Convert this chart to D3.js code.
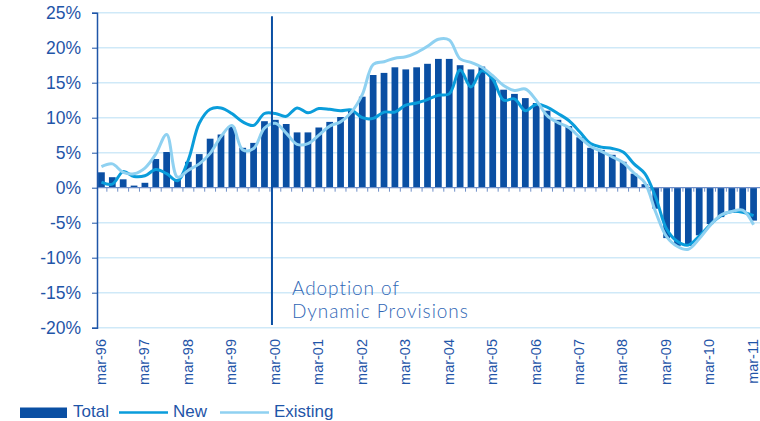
<!DOCTYPE html>
<html>
<head>
<meta charset="utf-8">
<script src="https://cdn.jsdelivr.net/npm/d3@7/dist/d3.min.js"></script>
<style>
  html, body { margin: 0; padding: 0; background: #fff; }
  svg { display: block; }
</style>
</head>
<body>
<svg id="chart" width="760" height="421"></svg>
<script>
// ---------- DATA ----------
const years = ["96","97","98","99","00","01","02","03","04","05","06","07","08","09","10","11"];
const months = ["mar","jun","sep","dec"];
const categories = years.flatMap(yy => months.map(m => m + "-" + yy)).slice(0, 61);

const tickLabels = ["mar-96","mar-97","mar-98","mar-99","mar-00","mar-01","mar-02","mar-03",
                    "mar-04","mar-05","mar-06","mar-07","mar-08","mar-09","mar-10","mar-11"];

const yTicks = [25, 20, 15, 10, 5, 0, -5, -10, -15, -20];

const totalValues = [
  2.2, 1.5, 1.2, 0.3, 0.7, 4.1, 5.1, 1.2, 3.7, 4.8,
  7.0, 7.6, 8.7, 5.7, 6.4, 9.5, 9.7, 9.1, 7.9, 7.9,
  8.6, 9.4, 10.1, 11.0, 13.0, 16.1, 16.4, 17.2, 16.9, 17.2,
  17.7, 18.4, 18.4, 17.5, 16.9, 17.3, 15.8, 14.0, 13.4, 12.8,
  12.1, 11.0, 9.7, 8.8, 7.2, 5.7, 5.4, 4.7, 3.7, 2.0,
  0.5, -3.0, -7.2, -8.3, -8.3, -6.8, -5.2, -4.2, -3.6, -3.5,
  -4.7
];

const newValues = [
  0.8, 0.5, 2.3, 1.6, 1.7, 2.6, 2.0, 1.0, 4.0, 9.2,
  11.2, 11.4, 10.6, 9.4, 8.9, 10.6, 10.6, 10.2, 11.4, 10.7,
  11.3, 11.2, 11.0, 11.1, 10.0, 9.9, 10.8, 10.8, 11.8, 12.1,
  12.6, 13.2, 13.4, 16.8, 14.4, 16.7, 15.5, 12.5, 12.7, 11.0,
  11.9, 11.5, 10.6, 9.6, 8.0, 6.3, 5.8, 5.6, 5.1, 3.4,
  2.0, -1.4, -5.9, -7.7, -8.2, -6.9, -5.3, -4.0, -3.4, -3.5,
  -4.0
];

const existingValues = [
  3.0, 3.4, 2.2, 2.0, 2.8, 4.8, 7.6, 1.5, 2.5, 3.4,
  4.9, 7.3, 8.9, 5.4, 5.6, 8.5, 9.2, 7.8, 6.2, 6.3,
  7.5, 8.8, 9.4, 10.8, 13.3, 17.6, 18.0, 18.5, 18.7, 19.3,
  20.2, 21.2, 21.1, 18.4, 17.9, 17.2, 16.0, 14.6, 13.9, 14.1,
  12.5, 10.3, 9.3, 8.6, 7.2, 5.9, 5.2, 4.4, 3.6, 2.1,
  0.7, -3.5, -7.0, -8.4, -8.8, -7.3, -5.4, -3.9, -3.4, -3.2,
  -5.3
];

const seriesNames = ["Total", "New", "Existing"];
const annotationCategory = "mar-00";
const annotationLines = ["Adoption of", "Dynamic Provisions"];

// ---------- STYLE ----------
const C = {
  bar: "#0a4fa3",
  newLine: "#0a9ddb",
  existing: "#8fd1f1",
  grid: "#cfe9f8",
  text: "#1f55a8",
  axis: "#1f56a8",
  zero: "#6f8fc8",
  note: "#2f66b5"
};
const FONT = "'Liberation Sans', Arial, Helvetica, sans-serif";

// ---------- SCALES ----------
const svg = d3.select("#chart");
const left = 97, right = 760;
const x = d3.scaleBand().domain(categories).range([96, 759])
  .paddingInner(0.38).paddingOuter(0.19);
const y = d3.scaleLinear().domain([-20, 25]).range([327.7, 12.7]);
const cx = c => x(c) + x.bandwidth() / 2;

// gridlines
svg.append("g").selectAll("line").data(yTicks.filter(d => d !== 0)).join("line")
  .attr("x1", left).attr("x2", right)
  .attr("y1", d => y(d)).attr("y2", d => y(d))
  .attr("stroke", C.grid).attr("stroke-width", 1.5);

// bars
svg.append("g").selectAll("rect").data(categories).join("rect")
  .attr("x", d => x(d))
  .attr("width", x.bandwidth())
  .attr("y", (d, i) => y(Math.max(0, totalValues[i])))
  .attr("height", (d, i) => Math.abs(y(totalValues[i]) - y(0)))
  .attr("fill", C.bar);

// zero axis line with small ticks between bars
const y0 = y(0);
svg.append("line").attr("x1", left).attr("x2", right).attr("y1", y0).attr("y2", y0)
  .attr("stroke", C.zero).attr("stroke-width", 1.2);
svg.append("g").selectAll("line").data(categories.slice(1)).join("line")
  .attr("x1", d => x(d) - x.step() * x.paddingInner() / 2)
  .attr("x2", d => x(d) - x.step() * x.paddingInner() / 2)
  .attr("y1", y0).attr("y2", y0 + 4)
  .attr("stroke", C.zero).attr("stroke-width", 1);

// lines
const lineGen = vals => d3.line()
  .x((d, i) => cx(categories[i]))
  .y(d => y(d))
  .curve(d3.curveCatmullRom.alpha(0.5))(vals);

svg.append("path").attr("d", lineGen(newValues))
  .attr("fill", "none").attr("stroke", C.newLine).attr("stroke-width", 3)
  .attr("stroke-linejoin", "round");
svg.append("path").attr("d", lineGen(existingValues))
  .attr("fill", "none").attr("stroke", C.existing).attr("stroke-width", 3)
  .attr("stroke-linejoin", "round");

// y axis
const yAxis = svg.append("g").attr("transform", `translate(${left},0)`)
  .call(d3.axisLeft(y).tickValues(yTicks).tickSize(5).tickPadding(11)
    .tickFormat(d => d + "%"));
yAxis.select(".domain").attr("stroke", C.axis).attr("stroke-width", 1.5);
yAxis.selectAll(".tick line").attr("stroke", C.axis).attr("stroke-width", 1);
yAxis.selectAll("text").attr("fill", C.text).style("font-family", FONT)
  .style("font-size", "17.5px");

// x labels (rotated)
svg.append("g").selectAll("text").data(tickLabels).join("text")
  .attr("transform", d => `translate(${cx(d)},339) rotate(-90)`)
  .attr("text-anchor", "end").attr("dy", "0.3em")
  .attr("fill", C.text).style("font-family", FONT).style("font-size", "14.5px")
  .text(d => d);

// annotation vertical line
const ax = x(annotationCategory);
svg.append("line").attr("x1", ax).attr("x2", ax)
  .attr("y1", y(24.5)).attr("y2", y(-19.6))
  .attr("stroke", C.bar).attr("stroke-width", 2);
const note = svg.append("g")
  .attr("fill", C.note)
  .style("font-family", "Lato, 'Open Sans', sans-serif").style("font-weight", 300)
  .style("font-size", "19px").style("letter-spacing", "0.95px");
note.selectAll("text").data(annotationLines).join("text")
  .attr("x", ax + 20).attr("y", (d, i) => 295 + i * 23.3)
  .text(d => d);

// legend
const lg = svg.append("g").style("font-family", FONT).style("font-size", "17px");
lg.append("rect").attr("x", 20).attr("y", 407.5).attr("width", 47).attr("height", 10.5)
  .attr("fill", C.bar);
lg.append("text").attr("x", 73).attr("y", 417).attr("fill", C.text).text(seriesNames[0]);
lg.append("line").attr("x1", 119).attr("x2", 168).attr("y1", 412.5).attr("y2", 412.5)
  .attr("stroke", C.newLine).attr("stroke-width", 2.5);
lg.append("text").attr("x", 173).attr("y", 417).attr("fill", C.text).text(seriesNames[1]);
lg.append("line").attr("x1", 220).attr("x2", 269).attr("y1", 412.5).attr("y2", 412.5)
  .attr("stroke", C.existing).attr("stroke-width", 2.5);
lg.append("text").attr("x", 274).attr("y", 417).attr("fill", C.text).text(seriesNames[2]);
</script>
</body>
</html>
